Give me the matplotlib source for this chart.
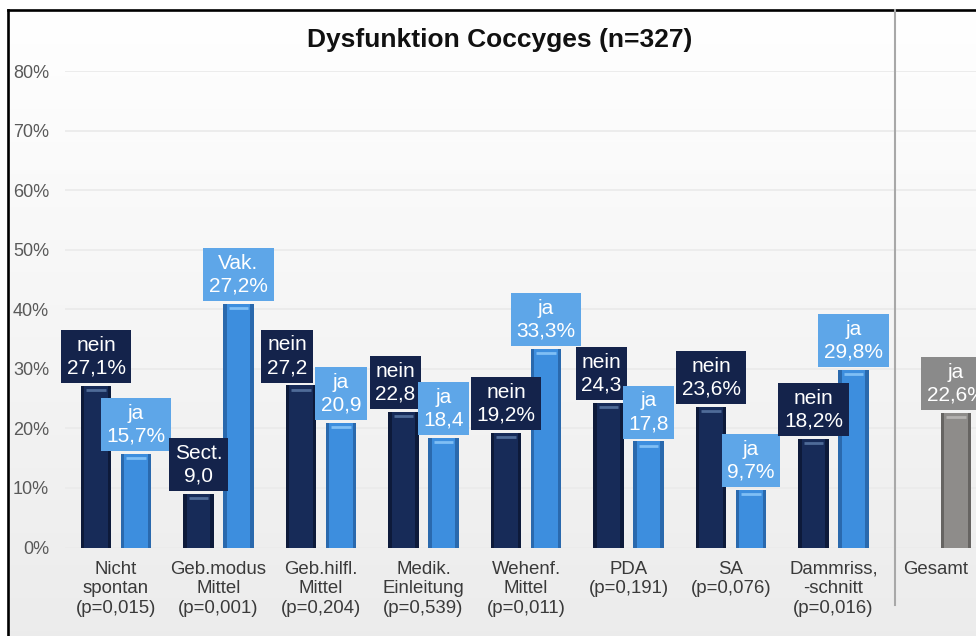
import numpy as np
import matplotlib
matplotlib.use("Agg")
import matplotlib.pyplot as plt

plt.rcParams['font.family'] = ['Liberation Sans', 'DejaVu Sans']

categories = ["Nicht\nspontan\n(p=0,015)", "Geb.modus\nMittel\n(p=0,001)",
              "Geb.hilfl.\nMittel\n(p=0,204)", "Medik.\nEinleitung\n(p=0,539)",
              "Wehenf.\nMittel\n(p=0,011)", "PDA\n(p=0,191)", "SA\n(p=0,076)",
              "Dammriss,\n-schnitt\n(p=0,016)", "Gesamt"]
nein_values = [27.1, 9.0, 27.2, 22.8, 19.2, 24.3, 23.6, 18.2]
ja_values = [15.7, 40.9, 20.9, 18.4, 33.3, 17.8, 9.7, 29.8]
nein_labels = ["nein\n27,1%", "Sect.\n9,0", "nein\n27,2", "nein\n22,8",
               "nein\n19,2%", "nein\n24,3", "nein\n23,6%", "nein\n18,2%"]
ja_labels = ["ja\n15,7%", "Vak.\n27,2%", "ja\n20,9", "ja\n18,4",
             "ja\n33,3%", "ja\n17,8", "ja\n9,7%", "ja\n29,8%"]
gesamt_value = 22.6
gesamt_label = "ja\n22,6%"
yticks = [0, 10, 20, 30, 40, 50, 60, 70, 80]

# label nudges (group spacing units) where the boxes sit off-centre
nein_shift = np.array([0, 0, -14, -8, 0, -7, 0, 0]) / 102.5

W, H = 976, 636
fig = plt.figure(figsize=(W / 100, H / 100), dpi=100, facecolor='white')

# background panel with gradient and black border on left/top
bg = fig.add_axes([8 / W, 0, 1 - 8 / W, 1 - 10 / H], zorder=-5)
grad = np.linspace(1.0, 0.925, 256).reshape(-1, 1)
bg.imshow(np.dstack([grad, grad, grad]), aspect='auto', extent=[0, 1, 0, 1])
bg.set_xticks([])
bg.set_yticks([])
for s in ['right', 'bottom']:
    bg.spines[s].set_visible(False)
for s in ['left', 'top']:
    bg.spines[s].set_linewidth(1.9)
    bg.spines[s].set_color('black')

ax = fig.add_axes([65 / W, 88.5 / H, (W - 65) / W, 476.5 / H])
ax.set_facecolor('none')
ax.set_xlim((65 - 116) / 102.5, (W - 116) / 102.5)
ax.set_ylim(0, 80)
ax.set_yticks(yticks)
ax.set_yticklabels([f"{v}%" for v in yticks], fontsize=13, color='#595959')
ax.set_xticks(range(len(categories)))
ax.set_xticklabels(categories, fontsize=13.4, color='#3a3a3a')
ax.tick_params(axis='y', length=0, pad=11.5)
ax.tick_params(axis='x', length=0, pad=9.5)
for s in ax.spines.values():
    s.set_visible(False)
ax.yaxis.grid(True, color='#ebebeb', linewidth=1.3)
ax.set_axisbelow(True)

w = 0.293
off = 0.195


def draw_bar(x, h, main, dark, light):
    ax.bar(x, h, width=w, color=dark, zorder=2)
    ax.bar(x, h, width=w * 0.78, color=main, zorder=3)
    ax.hlines(h - 0.7, x - w * 0.32, x + w * 0.32, color=light, lw=2, zorder=4)


def draw_label(x, h, text, color):
    ax.annotate(text, xy=(x, h), xytext=(0, 6), textcoords='offset points',
                ha='center', va='bottom', fontsize=15, color='white',
                linespacing=1.25, zorder=6,
                bbox=dict(boxstyle='square,pad=0.27', fc=color, ec='none'))


navy = ('#172b58', '#0d1a3a', '#4f6b98')
blue = ('#3d8ede', '#2a69ad', '#80bff5')
gray = ('#8e8c8a', '#666462', '#b5b3b1')

for i in range(len(nein_values)):
    draw_bar(i - off, nein_values[i], *navy)
    draw_bar(i + off, ja_values[i], *blue)
for i in range(len(nein_values)):
    draw_label(i - off + nein_shift[i], nein_values[i], nein_labels[i], '#14234b')
    draw_label(i + off, ja_values[i], ja_labels[i], '#5ea6e8')

g = len(categories) - 1
draw_bar(g + off, gesamt_value, *gray)
draw_label(g + off, gesamt_value, gesamt_label, '#8a8a8a')

# separator before "Gesamt"
ax.axvline((895 - 116) / 102.5, ymin=(547.5 - 605) / 476.5, ymax=(547.5 - 10) / 476.5,
           color='#a8a8a8', lw=1.5, clip_on=False, zorder=1)

fig.text(500 / W, 1 - 47 / H, "Dysfunktion Coccyges (n=327)", ha='center',
         va='baseline', fontsize=19, fontweight='bold', color='#111111')

fig.savefig("out.png", dpi=100, facecolor='white')
